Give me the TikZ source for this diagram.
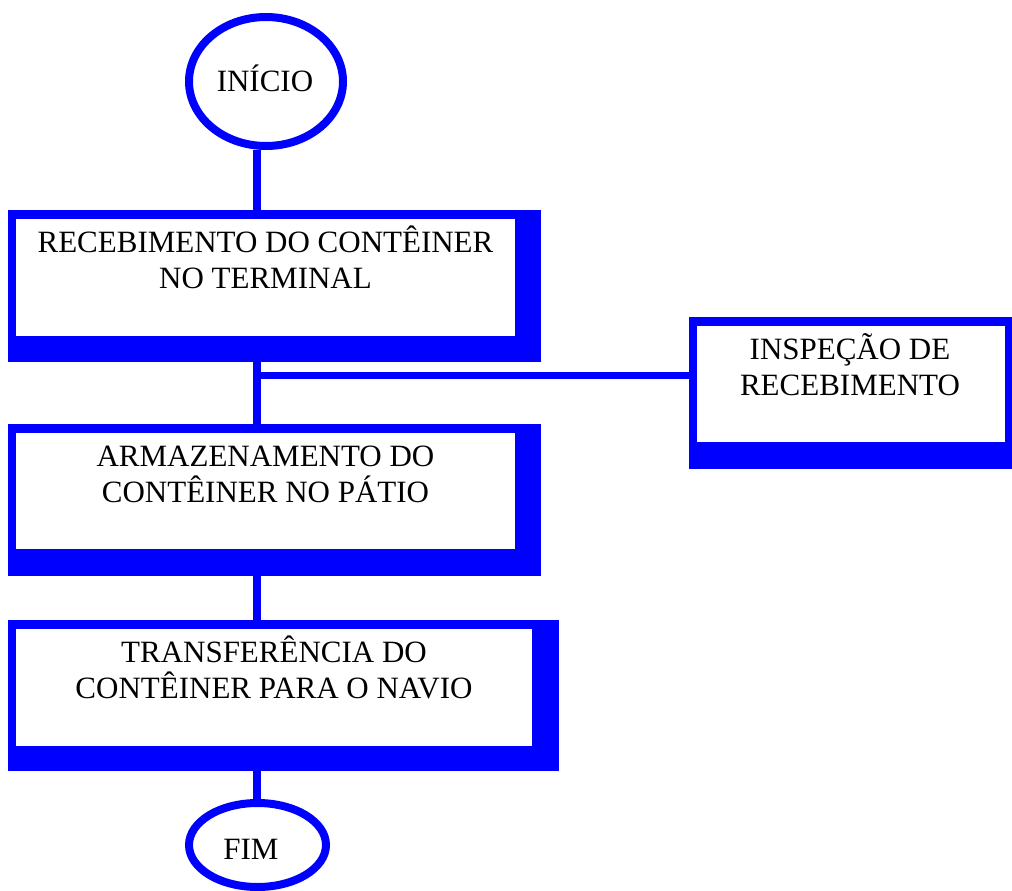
\documentclass[tikz,border=0pt]{standalone}
\usepackage{fontspec}
\setmainfont{Liberation Serif}
\usetikzlibrary{shapes.geometric,calc,backgrounds}
\definecolor{flowblue}{RGB}{0,0,255}

\begin{document}
\begin{tikzpicture}[x=1pt,y=-1pt,
  conn/.style={draw=flowblue, line width=7.5pt},
  stepbox/.style={rectangle, draw=flowblue, fill=white, line width=8pt, inner sep=0pt},
  terminal/.style={ellipse, draw=flowblue, fill=white, line width=8pt, inner sep=0pt},
  boxshadow/.style={fill=flowblue},
  steptext/.style={font=\fontsize{31}{36.5}\selectfont, align=center, inner sep=0pt}
]
\useasboundingbox (0,0) rectangle (1012,891);

% terminals
\node[terminal, minimum width=154pt, minimum height=129pt] (start) at (266,81.5) {};
\node[steptext, anchor=base] (startt) at (265,92) {INÍCIO};
\node[terminal, minimum width=137pt, minimum height=84pt] (fim) at (257.5,845) {};
\node[steptext, anchor=base] (fimt) at (251,859) {FIM};

% process boxes
\node[stepbox, minimum width=507pt, minimum height=125pt] (b1) at (265.5,277.5) {};
\node[stepbox, minimum width=507pt, minimum height=124pt] (b2) at (265.5,491) {};
\node[stepbox, minimum width=524pt, minimum height=125pt] (b3) at (274,687.5) {};
\node[stepbox, minimum width=316pt, minimum height=124pt] (insp) at (851,384) {};

% two-line captions, placed by the baseline of their last line
\node[steptext, anchor=base] (b1t) at ($(b1.north)+(0,77.5)$)
  {RECEBIMENTO DO CONTÊINER\\NO TERMINAL};
\node[steptext, anchor=base] (b2t) at ($(b2.north)+(0,77.5)$)
  {ARMAZENAMENTO DO\\CONTÊINER NO PÁTIO};
\node[steptext, anchor=base] (b3t) at ($(b3.north)+(0,77.5)$)
  {TRANSFERÊNCIA DO\\CONTÊINER PARA O NAVIO};
\node[steptext, anchor=base] (inspt) at ($(insp.north)+(-1,77.5)$)
  {INSPEÇÃO DE\\RECEBIMENTO};

% trunk line and branch point
\coordinate (trunk) at (257,0);
\coordinate (tap) at (257,375.5);

\begin{scope}[on background layer]
  \draw[conn] (start.south -| trunk) -- (fim.north -| trunk);
  \draw[conn] (tap) -- (insp.west |- tap);
  % drop shadows
  \fill[boxshadow] ($(b1.north west)+(0,-1)$) rectangle ($(b1.south east)+(18,18)$);
  \fill[boxshadow] ($(b2.north west)+(0,-1)$) rectangle ($(b2.south east)+(18,19)$);
  \fill[boxshadow] ($(b3.north west)+(0,-1)$) rectangle ($(b3.south east)+(19,17)$);
  \fill[boxshadow] ($(insp.north west)+(0,-1)$) rectangle ($(insp.south east)+(18,19)$);
\end{scope}
\end{tikzpicture}
\end{document}
